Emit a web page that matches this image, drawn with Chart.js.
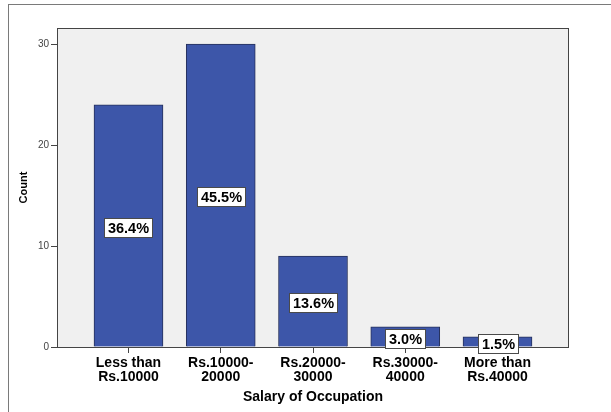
<!DOCTYPE html>
<html>
<head>
<meta charset="utf-8">
<script src="https://cdn.jsdelivr.net/npm/chart.js@4"></script>
<style>
html,body{margin:0;padding:0;background:#fff;}
#wrap{width:611px;height:412px;position:relative;}
</style>
</head>
<body>
<div id="wrap"><canvas id="c" width="611" height="412"></canvas></div>
<script>
const categories = [["Less than","Rs.10000"],["Rs.10000-","20000"],["Rs.20000-","30000"],["Rs.30000-","40000"],["More than","Rs.40000"]];
const counts = [24, 30, 9, 2, 1];
const percentLabels = ["36.4%", "45.5%", "13.6%", "3.0%", "1.5%"];
const yTicks = [0, 10, 20, 30];
const xTitle = "Salary of Occupation";
const yTitle = "Count";

const PLOT = {left:57, right:569, top:28, bottom:347};
const FONT = '"Liberation Sans", Arial, sans-serif';

const framePlugin = {
  id:'frame',
  beforeDraw(chart){
    const ctx = chart.ctx;
    ctx.save();
    ctx.fillStyle = '#ffffff';
    ctx.fillRect(0,0,chart.width,chart.height);
    ctx.strokeStyle = '#7a7a7a';
    ctx.lineWidth = 1;
    ctx.strokeRect(8.5, 4.5, 800, 600);
    const a = chart.chartArea;
    ctx.fillStyle = '#f0f0f0';
    ctx.fillRect(a.left, a.top, a.right-a.left, a.bottom-a.top);
    ctx.restore();
  },
  afterDatasetsDraw(chart){
    const ctx = chart.ctx;
    const a = chart.chartArea;
    ctx.save();
    ctx.strokeStyle = '#444444';
    ctx.lineWidth = 1;
    ctx.strokeRect(a.left+0.5, a.top+0.5, a.right-a.left-1, a.bottom-a.top);
    const meta = chart.getDatasetMeta(0);
    ctx.font = 'bold 14.5px ' + FONT;
    ctx.textAlign = 'center';
    ctx.textBaseline = 'middle';
    meta.data.forEach((bar, i) => {
      const txt = percentLabels[i];
      const cy = Math.round((bar.y + bar.base)/2) + 1;
      const cx = Math.round(bar.x);
      const w = Math.round(ctx.measureText(txt).width) + 7;
      const h = 19;
      const x0 = Math.round(cx - w/2), y0 = Math.round(cy - h/2);
      ctx.fillStyle = '#ffffff';
      ctx.fillRect(x0, y0, w, h);
      ctx.strokeStyle = '#4a4a4a';
      ctx.strokeRect(x0+0.5, y0+0.5, w, h);
      ctx.fillStyle = '#000000';
      ctx.fillText(txt, cx + 0.5, y0 + h/2 + 1);
    });
    ctx.restore();
  }
};

new Chart(document.getElementById('c'), {
  type: 'bar',
  data: {
    datasets: [{
      data: counts.map((v, i) => ({x: i, y: v})),
      backgroundColor: '#3d56a9',
      borderColor: '#26305a',
      borderWidth: 1,
      barThickness: 69
    }]
  },
  options: {
    responsive: false,
    animation: false,
    devicePixelRatio: 1,
    layout: {padding: {left: 0, right: 611 - PLOT.right, top: PLOT.top, bottom: 0}},
    plugins: {legend: {display: false}, tooltip: {enabled: false}},
    scales: {
      x: {
        type: 'linear',
        min: -0.775,
        max: 4.775,
        offset: false,
        afterBuildTicks(scale){ scale.ticks = categories.map((c, i) => ({value: i})); },
        afterFit(scale){ scale.height = 412 - PLOT.bottom; },
        grid: {offset: false, drawOnChartArea: false, drawTicks: true, tickLength: 6, color: '#444444'},
        border: {display: false},
        ticks: {
          autoSkip: false, maxRotation: 0, padding: 3,
          color: '#000000',
          font: {family: FONT, size: 14, weight: 'bold', lineHeight: 1.0},
          callback: (v) => categories[v]
        },
        title: {display: true, text: xTitle, color: '#000000',
          font: {family: FONT, size: 14, weight: 'bold'},
          padding: {top: 0, bottom: 6}}
      },
      y: {
        min: 0,
        max: 31.6,
        afterBuildTicks(scale){ scale.ticks = yTicks.map(v => ({value: v})); },
        afterFit(scale){ scale.width = PLOT.left; },
        grid: {drawOnChartArea: false, drawTicks: true, tickLength: 6, color: '#444444'},
        border: {display: false},
        ticks: {color: '#444444', padding: 2,
          font: {family: FONT, size: 10}},
        title: {display: true, text: yTitle, color: '#000000',
          font: {family: FONT, size: 11, weight: 'bold'},
          padding: {top: 17, bottom: 0}}
      }
    }
  },
  plugins: [framePlugin]
});
</script>
</body>
</html>
